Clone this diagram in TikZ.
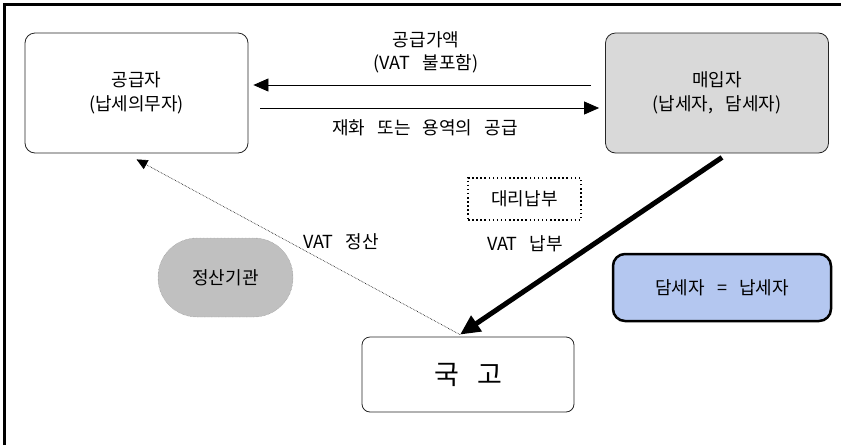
\documentclass[tikz,border=0pt]{standalone}
\usepackage{fontspec}
\setmainfont[WordSpace=3]{Noto Sans CJK KR}
\usetikzlibrary{arrows.meta}
\definecolor{buyergray}{RGB}{217,217,217}
\definecolor{officegray}{RGB}{192,192,192}
\definecolor{noteblue}{RGB}{180,199,240}
\tikzset{
  partybox/.style={draw=black!85, line width=0.8pt, rounded corners=10pt, minimum width=223pt,
    minimum height=120pt, align=center, font=\fontsize{18}{24}\selectfont},
  labeltext/.style={align=center, font=\fontsize{18}{23}\selectfont},
  flow/.style={line width=0.8pt, -{Triangle[length=15pt,width=13pt]}},
}
\begin{document}
\begin{tikzpicture}[x=1pt,y=-1pt]
  \useasboundingbox (0,0) rectangle (841,445);
  % 바깥 테두리
  \draw[line width=2.2pt] (4.5,445) -- (4.5,4.5) -- (841,4.5);

  % 거래 당사자
  \node[partybox] (supplier) at (136.5,93) {공급자\\(납세의무자)};
  \node[partybox, fill=buyergray] (buyer) at (717,93) {매입자\\(납세자, 담세자)};

  % 국고와 정산기관
  \node[draw=black!85, line width=0.8pt, rounded corners=8pt, minimum width=212pt, minimum height=75pt,
        font=\fontsize{27}{30}\selectfont] (treasury) at (468,374.5) {국 고};
  \node[draw=black!50, densely dotted, fill=officegray, rounded corners=39pt,
        minimum width=135pt, minimum height=79pt,
        font=\fontsize{18}{20}\selectfont] (office) at (225.5,277.5) {정산기관};

  % 대리납부와 설명 상자
  \node[draw, line width=1.3pt, dash pattern=on 1.5pt off 2.6pt, minimum width=113pt,
        minimum height=42pt, font=\fontsize{18}{20}\selectfont] (proxy) at (524.5,199) {대리납부};
  \node[draw, line width=2.5pt, fill=noteblue, rounded corners=12pt, minimum width=218pt,
        minimum height=67pt, font=\fontsize{18}{20}\selectfont] (note) at (722,287.5) {담세자 = 납세자};

  % 공급과 대가
  \draw[flow] ([yshift=8pt]buyer.west) ++(-14,0) -- ([yshift=8pt,xshift=5pt]supplier.east);
  \draw[flow] ([yshift=-15pt,xshift=12pt]supplier.east) -- ([yshift=-15pt,xshift=-6pt]buyer.west);
  \node[labeltext] (price) at (426,52) {공급가액\\(VAT 불포함)};
  \node[labeltext] (goods) at (425,128) {재화 또는 용역의 공급};

  % 납부와 정산
  \coordinate (inlet) at ([xshift=-8pt,yshift=2pt]treasury.north);
  \draw[line width=5pt, -{Triangle[length=20pt,width=18pt]}]
    ([xshift=5pt,yshift=-4pt]buyer.south) -- (inlet);
  \draw[line width=0.6pt, densely dotted, -{Triangle[length=11pt,width=10pt]}]
    (inlet) -- ([yshift=-6pt]supplier.south);
  \node[labeltext] (settle) at (341,242) {VAT 정산};
  \node[labeltext] (pay) at (525,244) {VAT 납부};
\end{tikzpicture}
\end{document}
